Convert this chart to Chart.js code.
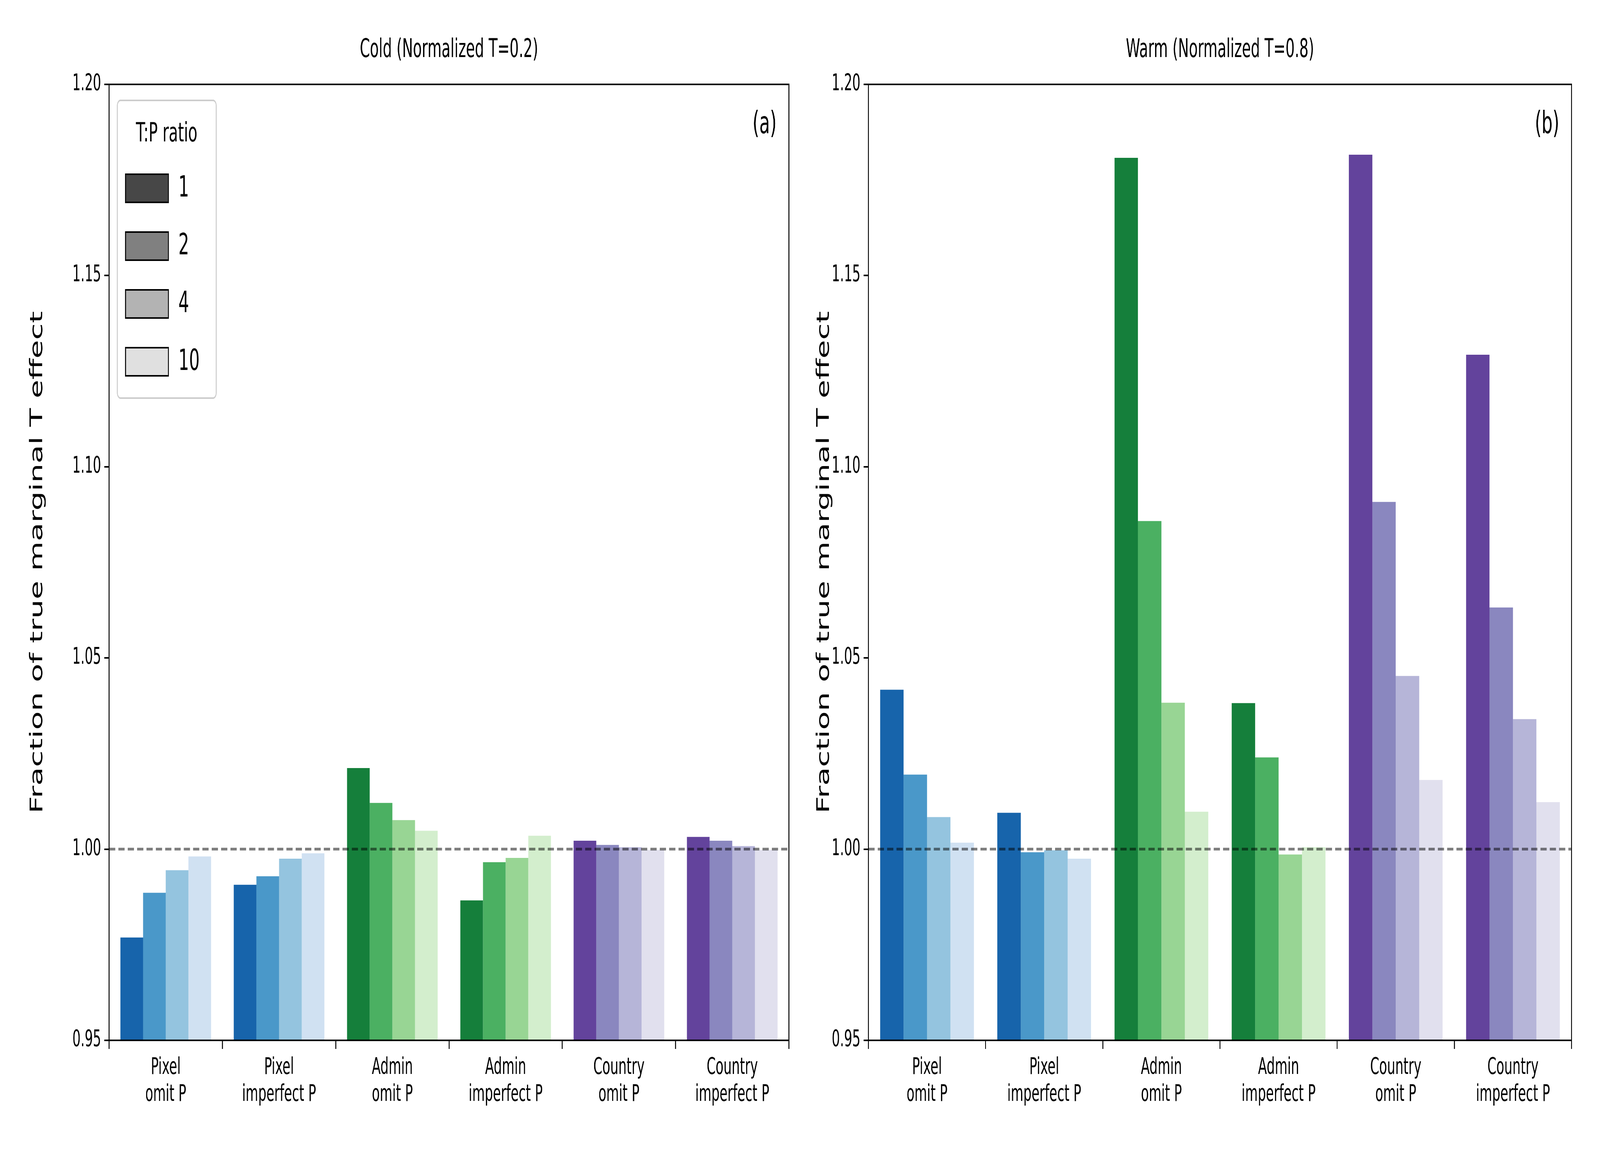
<!DOCTYPE html>
<html><head><meta charset="utf-8">
<script src="https://cdn.jsdelivr.net/npm/chart.js@4.4.0/dist/chart.umd.min.js"></script>
<style>
html,body{margin:0;padding:0;background:#fff;overflow:hidden;}
.wrap{position:absolute;top:0;width:50vw;height:100vh;}
.wrap canvas{width:100% !important;height:100% !important;display:block;}
</style></head><body>
<div class="wrap" style="left:0"><canvas id="cold" width="3600" height="3000"></canvas></div>
<div class="wrap" style="left:50vw"><canvas id="warm" width="3600" height="3000"></canvas></div>
<script>
const categories = [['Pixel','omit P'],['Pixel','imperfect P'],['Admin','omit P'],['Admin','imperfect P'],['Country','omit P'],['Country','imperfect P']];
const ratios = ['1','2','4','10'];
// rows = T:P ratio, columns = categories
const coldValues = [
  [0.9769,0.9907,1.0212,0.9866,1.0022,1.0032],
  [0.9886,0.9929,1.0121,0.9966,1.0011,1.0022],
  [0.9945,0.9975,1.0076,0.9977,1.0005,1.0008],
  [0.9981,0.9989,1.0048,1.0035,0.9998,0.9998]
];
const warmValues = [
  [1.0417,1.0095,1.1808,1.0382,1.1816,1.1293],
  [1.0195,0.9992,1.0858,1.0240,1.0908,1.0632],
  [1.0084,0.9997,1.0383,0.9986,1.0453,1.0340],
  [1.0017,0.9975,1.0098,1.0005,1.0181,1.0123]
];
const yTicks = [0.95,1.00,1.05,1.10,1.15,1.20];
const palette = {
  blue:['#1764ab','#4a98c9','#94c4df','#d0e1f2'],
  green:['#157f3b','#4bb062','#98d594','#d3eecd'],
  purple:['#63439c','#8a87bf','#b6b5d8','#e1e0ee']
};
const catFamily = ['blue','blue','green','green','purple','purple'];
const legendGrays = ['#474747','#808080','#b3b3b3','#e0e0e0'];

function panelPlugin(title, tag, labelX, showLegend){
  return {id:'panel'+tag, afterDraw(c){
    const ctx=c.ctx, a=c.chartArea, y=c.scales.y;
    ctx.save();
    // dashed reference line
    ctx.strokeStyle='rgba(0,0,0,0.5)'; ctx.lineWidth=7; ctx.setLineDash([28,14]);
    const y1=y.getPixelForValue(1.0);
    ctx.beginPath(); ctx.moveTo(a.left,y1); ctx.lineTo(a.right,y1); ctx.stroke();
    ctx.setLineDash([]);
    ctx.strokeStyle='#000'; ctx.lineWidth=4;
    ctx.strokeRect(a.left,a.top,a.right-a.left,a.bottom-a.top);
    ctx.fillStyle='#000'; ctx.textAlign='center'; ctx.textBaseline='middle';
    ctx.font='65px "DejaVu Sans"';
    ctx.fillText(title,(a.left+a.right)/2,129);
    ctx.font='78px "DejaVu Sans"'; ctx.textAlign='right';
    ctx.fillText('('+tag+')',a.right-55,321);
    ctx.save();
    ctx.translate(labelX,(a.top+a.bottom)/2); ctx.rotate(-Math.PI/2);
    ctx.textAlign='center'; ctx.font='78px "DejaVu Sans"';
    ctx.fillText('Fraction of true marginal T effect',0,0);
    ctx.restore();
    if(showLegend){
      const lx=a.left+37, ly=a.top+41;
      ctx.fillStyle='rgba(255,255,255,0.8)'; ctx.strokeStyle='#ccc'; ctx.lineWidth=4;
      ctx.beginPath(); ctx.roundRect(lx,ly,445,762,14); ctx.fill(); ctx.stroke();
      ctx.fillStyle='#000'; ctx.font='68px "DejaVu Sans"'; ctx.textAlign='center';
      ctx.fillText('T:P ratio',lx+222,ly+87);
      ratios.forEach((r,i)=>{
        const cy=ly+225+i*148;
        ctx.fillStyle=legendGrays[i]; ctx.fillRect(lx+37,cy-36,193,72);
        ctx.strokeStyle='#000'; ctx.lineWidth=4; ctx.strokeRect(lx+37,cy-36,193,72);
        ctx.fillStyle='#000'; ctx.textAlign='left'; ctx.font='75px "DejaVu Sans"';
        ctx.fillText(r,lx+275,cy+2);
      });
    }
    ctx.restore();
  }};
}

function makeChart(id, values, title, tag, yw, rightPad, labelX, legend){
  return new Chart(document.getElementById(id),{
    type:'bar',
    data:{labels:categories, datasets:values.map((v,i)=>({
      label:ratios[i], data:v, base:0.95,
      backgroundColor:catFamily.map(f=>palette[f][i]),
      categoryPercentage:0.8, barPercentage:1.0
    }))},
    options:{responsive:false, animation:false, devicePixelRatio:1,
      layout:{padding:{top:216,right:rightPad,left:0,bottom:0}},
      plugins:{legend:{display:false},tooltip:{enabled:false}},
      scales:{
        x:{grid:{display:true,drawOnChartArea:false,tickLength:22,color:'#000',lineWidth:4},
           border:{display:true,color:'#000',width:4},
           ticks:{color:'#000',font:{size:58,family:'DejaVu Sans'},padding:14},
           afterFit(s){s.height=337;}},
        y:{min:0.95,max:1.2,
           afterBuildTicks(s){s.ticks=yTicks.map(v=>({value:v}));},
           grid:{display:true,drawOnChartArea:false,tickLength:22,color:'#000',lineWidth:4},
           border:{display:true,color:'#000',width:4},
           ticks:{color:'#000',font:{size:58,family:'DejaVu Sans'},padding:14,callback:v=>v.toFixed(2)},
           afterFit(s){s.width=yw;}}
      }},
    plugins:[panelPlugin(title,tag,labelX,legend)]
  });
}
makeChart('cold',coldValues,'Cold (Normalized T=0.2)','a',491,50,170,true);
makeChart('warm',warmValues,'Warm (Normalized T=0.8)','b',308,128,110,false);
</script></body></html>
